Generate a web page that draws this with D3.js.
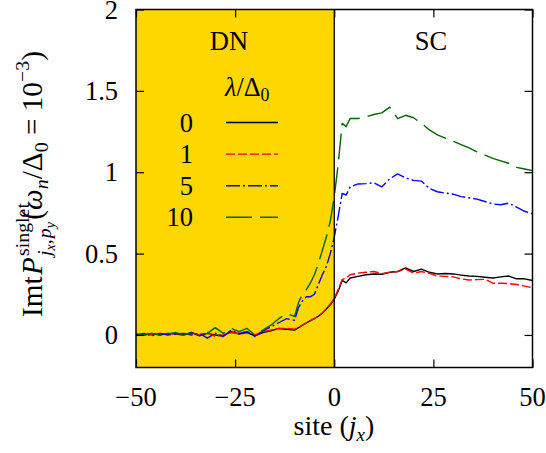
<!DOCTYPE html>
<html><head><meta charset="utf-8">
<script src="https://cdn.jsdelivr.net/npm/d3@7"></script>
<style>body{margin:0;background:#fff}svg{display:block}</style>
</head><body>
<svg id="c" width="546" height="453"></svg>
<script>
const sites = [-50,-48,-46,-44,-42,-40,-38,-36,-34,-32,-30,-28,-26,-24,-22,-20,-18,-16,-14,-12,
  -10,-9,-8,-7,-6,-5,-4,-3,-2,-1,0,1,2,3,4,
  6,8,10,12,14,16,18,20,22,24,26,28,30,32,34,36,38,40,42,44,46,48,50];
const lam0 = [0.005,0.0,0.01,0.0,0.01,0.005,0.0,0.015,-0.005,0.01,0.0,-0.005,0.02,0.005,0.015,-0.005,0.015,0.025,0.04,0.035,
  0.03,0.045,0.06,0.075,0.088,0.1,0.115,0.135,0.16,0.185,0.22,0.27,0.335,0.32,0.35,
  0.36,0.37,0.375,0.373,0.385,0.39,0.412,0.39,0.405,0.385,0.375,0.378,0.375,0.368,0.362,0.36,0.355,0.35,0.357,0.362,0.345,0.345,0.335];
const lam1 = [0.0,0.005,0.0,0.01,0.005,0.01,0.005,0.01,0.0,0.015,-0.01,0.0,0.015,0.01,0.02,0.0,0.02,0.03,0.04,0.04,
  0.035,0.045,0.06,0.072,0.09,0.1,0.118,0.135,0.16,0.19,0.225,0.28,0.34,0.35,0.37,
  0.38,0.385,0.39,0.377,0.385,0.39,0.405,0.38,0.39,0.378,0.362,0.36,0.357,0.345,0.338,0.34,0.342,0.318,0.318,0.316,0.31,0.3,0.29];
const lam5 = [0.0,0.01,-0.005,0.01,0.0,0.005,0.01,0.0,0.01,-0.02,0.01,-0.01,0.03,0.01,0.02,-0.01,0.025,0.05,0.075,0.1,
  0.09,0.17,0.21,0.235,0.235,0.25,0.31,0.37,0.42,0.5,0.6,0.73,0.87,0.86,0.91,
  0.928,0.93,0.935,0.91,0.96,0.99,0.965,0.95,0.945,0.9,0.88,0.872,0.865,0.85,0.843,0.835,0.82,0.805,0.8,0.81,0.785,0.76,0.745];
const lam10 = [0.005,0.0,0.01,0.0,0.005,0.015,0.0,0.01,0.005,0.01,0.045,0.01,0.04,0.02,0.04,0.0,0.03,0.06,0.1,0.13,
  0.115,0.2,0.25,0.28,0.32,0.37,0.44,0.52,0.6,0.7,0.85,1.05,1.3,1.28,1.33,
  1.33,1.34,1.355,1.365,1.4,1.33,1.35,1.335,1.3,1.26,1.23,1.21,1.19,1.17,1.15,1.125,1.105,1.085,1.07,1.055,1.03,1.02,1.01];
const seriesLabels = ["0","1","5","10"];
const seriesValues = [lam0, lam1, lam5, lam10];
const xTicks = [-50,-25,0,25,50];
const yTicks = [0,0.5,1,1.5,2];
const regionLabels = ["DN","SC"];

const colors = ["#000000","#ff0000","#0000ff","#006400"];
const dashes = [null,"9,3","14,3,2,3","26,8"];

const FONT = "'Liberation Serif', 'Times New Roman', serif";
const svg = d3.select("#c");
const L = 136, R = 532.5, T = 9.5, B = 367.5;
const x = d3.scaleLinear().domain([-50,50]).range([L,R]);
const y = d3.scaleLinear().domain([-0.2,2]).range([B,T]);

// DN region
svg.append("rect").attr("x", x(-50)).attr("y", T).attr("width", x(0)-x(-50)).attr("height", B-T).attr("fill","#ffd700");

// lines
const line = d3.line().x((d,i)=>x(sites[i])).y(d=>y(d));
const gl = svg.append("g");
seriesValues.forEach((vals,k)=>{
  gl.append("path").attr("d", line(vals)).attr("fill","none")
    .attr("stroke", colors[k]).attr("stroke-width",1.4)
    .attr("stroke-dasharray", dashes[k]).attr("stroke-linejoin","round");
});

// interface line
svg.append("line").attr("x1",x(0)).attr("x2",x(0)).attr("y1",T).attr("y2",B).attr("stroke","#000").attr("stroke-width",1.3);

// axes with inward ticks on all sides
const tl = 8;
const axB = d3.axisBottom(x).tickValues(xTicks).tickSize(-tl).tickFormat("").tickSizeOuter(0);
const axT = d3.axisTop(x).tickValues(xTicks).tickSize(-tl).tickFormat("").tickSizeOuter(0);
const axL = d3.axisLeft(y).tickValues(yTicks).tickSize(-tl).tickFormat("").tickSizeOuter(0);
const axR = d3.axisRight(y).tickValues(yTicks).tickSize(-tl).tickFormat("").tickSizeOuter(0);
[[axB,`translate(0,${B})`],[axT,`translate(0,${T})`],[axL,`translate(${L},0)`],[axR,`translate(${R},0)`]].forEach(([a,t])=>{
  const g = svg.append("g").attr("transform",t).call(a);
  g.select(".domain").remove();
  g.selectAll(".tick line").attr("stroke","#000").attr("stroke-width",1.2);
});
svg.append("rect").attr("x",L).attr("y",T).attr("width",R-L).attr("height",B-T).attr("fill","none").attr("stroke","#000").attr("stroke-width",1.5);

// tick labels
const fmt = v => (v<0 ? "\u2212"+Math.abs(v) : String(v));
svg.append("g").selectAll("text").data(xTicks).join("text")
  .attr("x", d=>x(d)).attr("y", 406).attr("text-anchor","middle")
  .attr("font-family",FONT).attr("font-size",26.5).text(fmt);
svg.append("g").selectAll("text").data(yTicks).join("text")
  .attr("x", 118).attr("y", d=>y(d)+9).attr("text-anchor","end")
  .attr("font-family",FONT).attr("font-size",26.5).text(d=>String(d));

// rich text helper
function rich(parent, runs, px, py, anchor, transform, k){
  k = k || 1;
  const g = parent.append("g");
  let cx = 0, lastStart = 0;
  runs.forEach(r=>{
    if (r.back) cx = lastStart;
    const t = g.append("text").attr("x",cx).attr("y",(r.dy||0)*k)
      .attr("font-family",FONT).attr("font-size",(r.size||25)*k)
      .attr("font-style", r.it ? "italic" : "normal")
      .style("white-space","pre").text(r.t);
    const w = t.node().getComputedTextLength();
    lastStart = cx;
    cx += w + (r.pad||0)*k;
  });
  const total = cx;
  const off = anchor==="middle" ? -total/2 : (anchor==="end" ? -total : 0);
  g.attr("transform", (transform||`translate(${px},${py})`) + ` translate(${off},0)`);
  return g;
}

// y label
rich(svg, [
  {t:"Imt", pad:1}, {t:"P", it:true, pad:1},
  {t:"singlet", size:17, dy:-11},
  {t:"j", it:true, size:17, dy:8, back:true},
  {t:"x", it:true, size:12, dy:11},
  {t:",", size:17, dy:8, pad:1},
  {t:"p", it:true, size:17, dy:8},
  {t:"y", it:true, size:12, dy:11, pad:2},
  {t:"("}, {t:"ω", it:true}, {t:"n", it:true, size:17, dy:5},
  {t:"/"}, {t:"Δ"}, {t:"0", size:17, dy:5},
  {t:" = "}, {t:"10"}, {t:"\u22123", size:17, dy:-11}, {t:")"}
], 0, 0, "middle", "translate(42,184) rotate(-90)", 1.17);

// x label
rich(svg, [
  {t:"site ("}, {t:"j", it:true}, {t:"x", it:true, size:17, dy:5}, {t:")"}
], 334, 435, "middle", null, 1.12);

// region labels
svg.append("text").attr("x",229).attr("y",50).attr("text-anchor","middle").attr("font-family",FONT).attr("font-size",26.5).text(regionLabels[0]);
svg.append("text").attr("x",431).attr("y",50).attr("text-anchor","middle").attr("font-family",FONT).attr("font-size",26.5).text(regionLabels[1]);

// legend
rich(svg, [
  {t:"λ", it:true}, {t:"/"}, {t:"Δ"}, {t:"0", size:17, dy:5}
], 225, 96, "start", null, 1.05);
const legY0 = 122.5, legDy = 31.6;
seriesLabels.forEach((lab,k)=>{
  const yy = legY0 + k*legDy;
  svg.append("text").attr("x",193).attr("y",yy+9).attr("text-anchor","end")
    .attr("font-family",FONT).attr("font-size",26.5).text(lab);
  svg.append("line").attr("x1",226).attr("x2",278).attr("y1",yy).attr("y2",yy)
    .attr("stroke",colors[k]).attr("stroke-width",1.4).attr("stroke-dasharray",dashes[k]);
});
</script>
</body></html>
